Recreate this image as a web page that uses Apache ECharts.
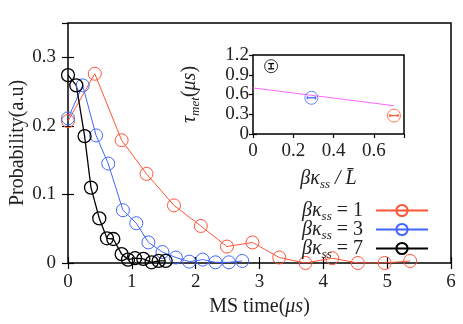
<!DOCTYPE html>
<html>
<head>
<meta charset="utf-8">
<script src="https://cdn.jsdelivr.net/npm/echarts@6/dist/echarts.min.js"></script>
<style>
  html, body { margin: 0; background: #fff; }
  #main { width: 463px; height: 324px; }
</style>
</head>
<body>
<div id="main"></div>
<script>
// main plot data (MS time in us, probability)
const timeK1 = [0, 0.42, 0.84, 1.23, 1.66, 2.08, 2.49, 2.89, 3.31, 3.72, 4.14, 4.54, 4.96, 5.36];
const probK1 = [0.207, 0.276, 0.179, 0.13, 0.084, 0.054, 0.024, 0.030, 0.008, 0.0, 0.007, 0.0, 0.0, 0.003];

const timeK3 = [0, 0.23, 0.44, 0.63, 0.86, 1.07, 1.26, 1.48, 1.69, 1.90, 2.11, 2.31, 2.52, 2.73];
const probK3 = [0.211, 0.259, 0.186, 0.145, 0.077, 0.058, 0.030, 0.016, 0.008, 0.002, 0.005, 0.001, 0.001, 0.003];

const timeK7 = [0, 0.13, 0.26, 0.36, 0.49, 0.61, 0.71, 0.84, 0.94, 1.05, 1.18, 1.31, 1.42, 1.53];
const probK7 = [0.274, 0.259, 0.185, 0.110, 0.065, 0.036, 0.035, 0.013, 0.005, 0.007, 0.006, 0.001, 0.003, 0.003];

const seriesNames = ['k1', 'k3', 'k7'];
const legendValues = [1, 3, 7];

// inset data (beta*kappa_ss / Lbar, tau_met)
const insetX = [0.09, 0.29, 0.70];
const insetY = [1.03, 0.55, 0.28];
const insetErrX = [0, 0.02, 0.02];
const insetErrY = [0.04, 0, 0];
const fitX = [0, 0.70];
const fitY = [0.70, 0.43];

const RED = '#ff5436';
const BLUE = '#4166ff';
const BLACK = '#000000';
const insetColors = [BLACK, BLUE, RED];
const FONT = 'Liberation Serif';

const zip = (xs, ys) => xs.map((x, i) => [x, ys[i]]);

const myChart = echarts.init(document.getElementById('main'));

const sub = { fontFamily: FONT, fontSize: 13, fontStyle: 'italic', lineHeight: 10, padding: [12, 0, 0, 0], color: '#222' };
const mathIt = { fontFamily: FONT, fontSize: 20, fontStyle: 'italic', lineHeight: 20, color: '#222' };
const plain = { fontFamily: FONT, fontSize: 20, lineHeight: 20, color: '#222' };
const eq = Object.assign({}, plain, { padding: [0, 5, 0, 5] });

function lineSeries(name, xs, ys, color) {
  const w = color === BLACK ? 1.3 : 1;
  return {
    name: name,
    type: 'line',
    xAxisIndex: 0,
    yAxisIndex: 0,
    data: zip(xs, ys),
    symbol: 'circle',
    symbolSize: 13,
    showAllSymbol: true,
    lineStyle: { color: color, width: w },
    itemStyle: { color: 'rgba(0,0,0,0)', borderColor: color, borderWidth: w },
    emphasis: { disabled: true },
    z: 3,
  };
}

const tickStyle = { inside: true, length: 6, lineStyle: { color: '#000', width: 1.2 } };
const insetTick = { inside: true, length: 4, lineStyle: { color: '#000', width: 1.2 } };
const labelStyle = { fontFamily: FONT, fontSize: 19, color: '#222' };

const option = {
  animation: false,
  grid: [
    { left: 68, right: 12, top: 23, bottom: 61, show: true, borderColor: '#000', borderWidth: 1.5, outerBoundsMode: 'none', containLabel: false },
    { left: 253, top: 55, width: 151, height: 79, show: true, borderColor: '#000', borderWidth: 1.5, z: 5, backgroundColor: '#fff', outerBoundsMode: 'none', containLabel: false },
  ],
  legend: {
    data: seriesNames,
    orient: 'vertical',
    align: 'right',
    right: 34,
    top: 198,
    padding: 0,
    itemWidth: 52,
    itemHeight: 14,
    itemGap: -6,
    formatter: (name) => '{m|βκ}{s|ss}{e|=}{p|' + legendValues[seriesNames.indexOf(name)] + '}',
    textStyle: { rich: { m: mathIt, s: sub, e: eq, p: Object.assign({}, plain, { padding: [0, 8, 0, 0] }) } },
  },
  xAxis: [
    {
      gridIndex: 0, type: 'value', min: 0, max: 6, interval: 1,
      axisLine: { show: false }, axisTick: tickStyle, splitLine: { show: false },
      axisLabel: Object.assign({ margin: 10 }, labelStyle),
      name: '{p|MS time(}{m|μs}{p|)}', nameLocation: 'middle', nameGap: 32,
      nameTextStyle: { rich: { p: plain, m: mathIt } },
    },
    {
      gridIndex: 0, type: 'value', position: 'top', min: 0, max: 6, interval: 1,
      axisLine: { show: false }, axisTick: tickStyle, axisLabel: { show: false }, splitLine: { show: false },
    },
    {
      gridIndex: 1, type: 'value', min: 0, max: 0.75, interval: 0.2,
      axisLine: { show: false }, axisTick: insetTick, splitLine: { show: false },
      axisLabel: Object.assign({ margin: 8, showMaxLabel: false }, labelStyle),
      name: '{m|βκ}{s|ss}{m| / L̄}', nameLocation: 'middle', nameGap: 35,
      nameTextStyle: { rich: { m: mathIt, s: sub } },
    },
    {
      gridIndex: 1, type: 'value', position: 'top', min: 0, max: 0.75, interval: 0.2,
      axisLine: { show: false }, axisTick: insetTick, axisLabel: { show: false }, splitLine: { show: false },
    },
  ],
  yAxis: [
    {
      gridIndex: 0, type: 'value', min: 0, max: 0.35, interval: 0.1,
      axisLine: { show: false }, axisTick: tickStyle, splitLine: { show: false },
      axisLabel: Object.assign({ margin: 12, showMaxLabel: false }, labelStyle),
      name: 'Probability(a.u)', nameLocation: 'middle', nameGap: 40, nameMoveOverlap: false,
      nameTextStyle: plain,
    },
    {
      gridIndex: 0, type: 'value', position: 'right', min: 0, max: 0.35, interval: 0.1,
      axisLine: { show: false }, axisTick: tickStyle, axisLabel: { show: false }, splitLine: { show: false },
    },
    {
      gridIndex: 1, type: 'value', min: 0, max: 1.2, interval: 0.3,
      axisLine: { show: false }, axisTick: insetTick, splitLine: { show: false },
      axisLabel: Object.assign({ margin: 4 }, labelStyle),
      name: '{m|τ}{s|met}{p|(}{m|μs}{p|)}', nameLocation: 'middle', nameGap: 53,
      nameTextStyle: { rich: { m: mathIt, s: sub, p: plain } },
    },
    {
      gridIndex: 1, type: 'value', position: 'right', min: 0, max: 1.2, interval: 0.3,
      axisLine: { show: false }, axisTick: insetTick, axisLabel: { show: false }, splitLine: { show: false },
    },
  ],
  series: [
    lineSeries('k1', timeK1, probK1, RED),
    lineSeries('k3', timeK3, probK3, BLUE),
    lineSeries('k7', timeK7, probK7, BLACK),
    {
      type: 'line', xAxisIndex: 2, yAxisIndex: 2,
      data: zip(fitX, fitY), symbol: 'none',
      lineStyle: { color: '#ff66ff', width: 1 }, z: 6,
    },
    {
      type: 'scatter', xAxisIndex: 2, yAxisIndex: 2,
      data: insetX.map((x, i) => ({
        value: [x, insetY[i]],
        itemStyle: { color: 'rgba(0,0,0,0)', borderColor: insetColors[i], borderWidth: 1 },
      })),
      symbol: 'circle', symbolSize: 13, z: 7,
    },
    {
      type: 'custom', xAxisIndex: 2, yAxisIndex: 2, z: 8,
      data: insetX.map((x, i) => [x, insetY[i], insetErrX[i], insetErrY[i], i]),
      renderItem: (params, api) => {
        const x = api.value(0), y = api.value(1), ex = api.value(2), ey = api.value(3);
        const c = insetColors[api.value(4)];
        const style = { stroke: c, lineWidth: 1.3 };
        const kids = [];
        if (ey > 0) {
          const top = api.coord([x, y + ey]);
          const bot = api.coord([x, y - ey]);
          kids.push({ type: 'line', shape: { x1: top[0], y1: top[1], x2: bot[0], y2: bot[1] }, style });
          kids.push({ type: 'line', shape: { x1: top[0] - 3, y1: top[1], x2: top[0] + 3, y2: top[1] }, style });
          kids.push({ type: 'line', shape: { x1: bot[0] - 3, y1: bot[1], x2: bot[0] + 3, y2: bot[1] }, style });
        }
        if (ex > 0) {
          const l = api.coord([x - ex, y]);
          const r = api.coord([x + ex, y]);
          kids.push({ type: 'line', shape: { x1: l[0], y1: l[1], x2: r[0], y2: r[1] }, style });
          kids.push({ type: 'line', shape: { x1: l[0], y1: l[1] - 1.5, x2: l[0], y2: l[1] + 1.5 }, style });
          kids.push({ type: 'line', shape: { x1: r[0], y1: r[1] - 1.5, x2: r[0], y2: r[1] + 1.5 }, style });
        }
        return { type: 'group', children: kids };
      },
    },
  ],
};

myChart.setOption(option);
</script>
</body>
</html>
